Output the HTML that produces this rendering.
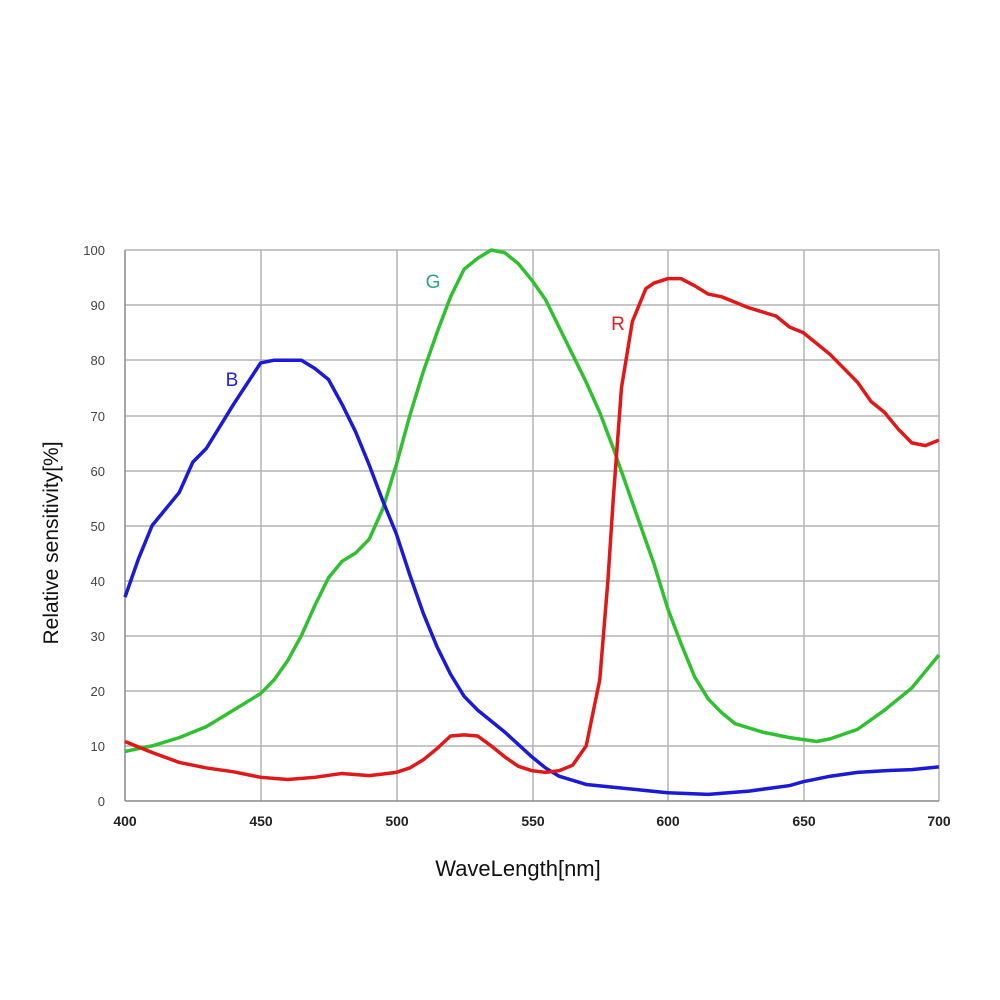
<!DOCTYPE html>
<html><head><meta charset="utf-8"><style>
html,body{margin:0;padding:0;background:#fff;}
svg{display:block;font-family:"Liberation Sans",Arial,sans-serif;}
</style></head><body>
<svg width="1000" height="1000" viewBox="0 0 1000 1000" xmlns="http://www.w3.org/2000/svg">
<rect width="1000" height="1000" fill="#fff"/>
<g stroke="#b4b4b4" stroke-width="1.5">
<line x1="125" y1="250" x2="939" y2="250"/>
<line x1="125" y1="305" x2="939" y2="305"/>
<line x1="125" y1="360" x2="939" y2="360"/>
<line x1="125" y1="416" x2="939" y2="416"/>
<line x1="125" y1="471" x2="939" y2="471"/>
<line x1="125" y1="526" x2="939" y2="526"/>
<line x1="125" y1="581" x2="939" y2="581"/>
<line x1="125" y1="636" x2="939" y2="636"/>
<line x1="125" y1="691" x2="939" y2="691"/>
<line x1="125" y1="746" x2="939" y2="746"/>
<line x1="261" y1="250" x2="261" y2="801"/>
<line x1="397" y1="250" x2="397" y2="801"/>
<line x1="533" y1="250" x2="533" y2="801"/>
<line x1="668" y1="250" x2="668" y2="801"/>
<line x1="804" y1="250" x2="804" y2="801"/>
<line x1="939" y1="250" x2="939" y2="801"/>
</g>
<g stroke="#888" stroke-width="1.5"><line x1="125" y1="250" x2="125" y2="801"/><line x1="125" y1="801" x2="939" y2="801"/></g>
<g font-size="13" fill="#444" text-anchor="end">
<text x="105" y="255">100</text><text x="105" y="310">90</text><text x="105" y="365">80</text>
<text x="105" y="421">70</text><text x="105" y="476">60</text><text x="105" y="531">50</text>
<text x="105" y="586">40</text><text x="105" y="641">30</text><text x="105" y="696">20</text>
<text x="105" y="751">10</text><text x="105" y="806">0</text>
</g>
<g font-size="14" fill="#222" text-anchor="middle" font-weight="bold">
<text x="125" y="826">400</text><text x="261" y="826">450</text><text x="397" y="826">500</text>
<text x="533" y="826">550</text><text x="668" y="826">600</text><text x="804" y="826">650</text><text x="939" y="826">700</text>
</g>
<text x="518" y="876" font-size="22" text-anchor="middle" fill="#111">WaveLength[nm]</text>
<text transform="translate(58,543) rotate(-90)" font-size="21" text-anchor="middle" fill="#111">Relative sensitivity[%]</text>
<text x="232" y="386" font-size="19" fill="#2222dd" text-anchor="middle">B</text>
<text x="433" y="288" font-size="19" fill="#2aa87a" text-anchor="middle">G</text>
<text x="618" y="330" font-size="19" fill="#e02020" text-anchor="middle">R</text>
<g transform="translate(125,801) scale(2.713,-5.51)" fill="none" stroke-width="3.5" stroke-linejoin="round">
<polyline vector-effect="non-scaling-stroke" stroke="#30c030" points="0,9 10,10 20,11.5 30,13.5 40,16.5 50,19.5 55,22 60,25.5 65,30 70,35.5 75,40.5 80,43.5 85,45 90,47.5 95,53 100,61 105,70 110,78 115,85 120,91.5 125,96.5 130,98.5 135,100 140,99.5 145,97.5 150,94.5 155,91 160,86 165,81 170,76 175,70.5 180,64 185,57 190,50 195,43 200,35 205,28.5 210,22.5 215,18.5 220,16 225,14 235,12.5 245,11.5 255,10.8 260,11.3 270,13 280,16.5 290,20.5 300,26.5"/>
<polyline vector-effect="non-scaling-stroke" stroke="#1a1ad8" points="0,37 5,44 10,50 20,56 25,61.5 30,64 40,72 50,79.5 55,80 65,80 70,78.5 75,76.5 80,72 85,67 90,61 95,54.5 100,48.5 105,41 110,34 115,28 120,23 125,19 130,16.5 140,12.5 150,8 155,6 160,4.5 170,3 180,2.5 190,2 200,1.5 215,1.2 230,1.8 245,2.8 250,3.5 260,4.5 270,5.2 280,5.5 290,5.7 300,6.2"/>
<polyline vector-effect="non-scaling-stroke" stroke="#e01818" points="0,10.8 10,8.8 20,7 30,6 40,5.3 50,4.3 60,3.9 70,4.3 80,5 90,4.6 100,5.2 105,6 110,7.5 115,9.5 120,11.8 125,12 130,11.8 135,10 140,8 145,6.3 150,5.5 155,5.2 160,5.5 165,6.5 170,10 175,22 178,40 180,55 183,75 187,87 192,93 195,94 200,94.8 205,94.8 210,93.5 215,92 220,91.5 230,89.5 240,88 245,86 250,85 255,83 260,81 270,76 275,72.5 280,70.5 285,67.5 290,65 295,64.5 300,65.5"/>
</g>
</svg>
</body></html>
